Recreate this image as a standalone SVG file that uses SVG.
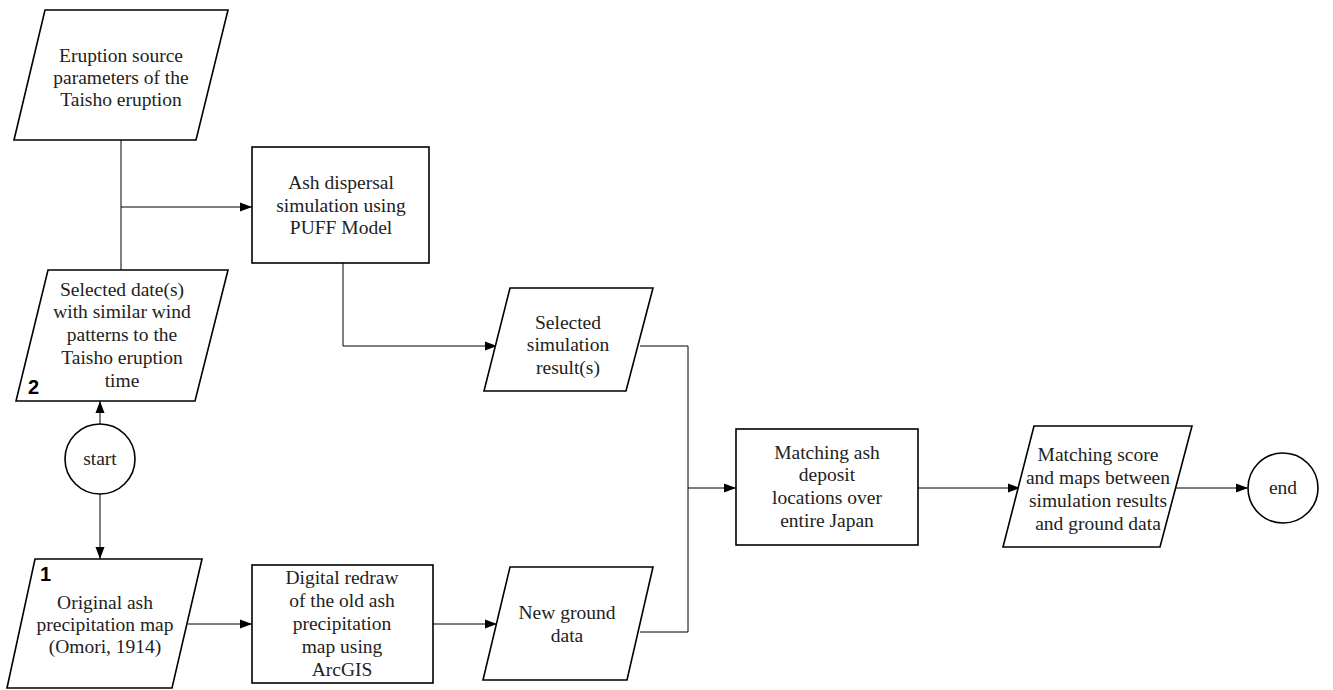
<svg xmlns="http://www.w3.org/2000/svg" width="1333" height="690" viewBox="0 0 1333 690">
<defs>
<marker id="ah" viewBox="0 0 12 10" refX="12" refY="5" markerWidth="12" markerHeight="10" markerUnits="userSpaceOnUse" orient="auto">
<path d="M0,0.5 L12,5 L0,9.5 Z" fill="#000"/>
</marker>
<style>
.s{fill:#fff;stroke:#000;stroke-width:1.6}
.c{fill:none;stroke:#000;stroke-width:1}
.t{font-family:"Liberation Serif","Times New Roman",serif;font-size:19.5px;fill:#222;text-anchor:middle}
.n{font-family:"Liberation Sans",Arial,sans-serif;font-size:20px;font-weight:bold;fill:#000}
</style>
</defs>
<rect width="1333" height="690" fill="#fff"/>
<g id="connectors">
<path class="c" d="M121,140 V270"/>
<path class="c" d="M121,207 H252" marker-end="url(#ah)"/>
<path class="c" d="M100,424 V401" marker-end="url(#ah)"/>
<path class="c" d="M100,494 V559" marker-end="url(#ah)"/>
<path class="c" d="M188,624 H252" marker-end="url(#ah)"/>
<path class="c" d="M343,263 V346 H497" marker-end="url(#ah)"/>
<path class="c" d="M433,624 H497" marker-end="url(#ah)"/>
<path class="c" d="M640,346 H688 V632 H640"/>
<path class="c" d="M688,488 H736" marker-end="url(#ah)"/>
<path class="c" d="M918,488 H1020" marker-end="url(#ah)"/>
<path class="c" d="M1176,488 H1248" marker-end="url(#ah)"/>
</g>
<g id="eruption-params">
<polygon class="s" points="45,10 228,10 196,140 14,140"/>
<text class="t" x="121" y="62">Eruption source</text>
<text class="t" x="121" y="84">parameters of the</text>
<text class="t" x="121" y="106">Taisho eruption</text>
</g>
<g id="selected-dates">
<polygon class="s" points="48,270 228,270 195,401 16,401"/>
<text class="t" x="122" y="296">Selected date(s)</text>
<text class="t" x="122" y="318">with similar wind</text>
<text class="t" x="122" y="341">patterns to the</text>
<text class="t" x="122" y="364">Taisho eruption</text>
<text class="t" x="122" y="387">time</text>
<text class="n" x="28" y="394">2</text>
</g>
<g id="start">
<circle class="s" cx="100" cy="459" r="35"/>
<text class="t" x="100" y="465">start</text>
</g>
<g id="original-map">
<polygon class="s" points="35,559 202,559 172,688 7,688"/>
<text class="t" x="105" y="609">Original ash</text>
<text class="t" x="105" y="631">precipitation map</text>
<text class="t" x="105" y="653">(Omori, 1914)</text>
<text class="n" x="40" y="581">1</text>
</g>
<g id="ash-dispersal">
<rect class="s" x="252" y="147" width="177" height="116"/>
<text class="t" x="341" y="189">Ash dispersal</text>
<text class="t" x="341" y="212">simulation using</text>
<text class="t" x="341" y="234">PUFF Model</text>
</g>
<g id="digital-redraw">
<rect class="s" x="252" y="565" width="181" height="118"/>
<text class="t" x="342" y="584">Digital redraw</text>
<text class="t" x="342" y="607">of the old ash</text>
<text class="t" x="342" y="630">precipitation</text>
<text class="t" x="342" y="653">map using</text>
<text class="t" x="342" y="676">ArcGIS</text>
</g>
<g id="selected-simulation">
<polygon class="s" points="510,288 653,288 626,391 484,391"/>
<text class="t" x="568" y="329">Selected</text>
<text class="t" x="568" y="351">simulation</text>
<text class="t" x="568" y="374">result(s)</text>
</g>
<g id="new-ground-data">
<polygon class="s" points="510,567 653,567 627,680 483,680"/>
<text class="t" x="567" y="619">New ground</text>
<text class="t" x="567" y="642">data</text>
</g>
<g id="matching">
<rect class="s" x="736" y="429" width="182" height="116"/>
<text class="t" x="827" y="459">Matching ash</text>
<text class="t" x="827" y="481">deposit</text>
<text class="t" x="827" y="504">locations over</text>
<text class="t" x="827" y="527">entire Japan</text>
</g>
<g id="matching-score">
<polygon class="s" points="1034,426 1192,426 1160,547 1003,547"/>
<text class="t" x="1098" y="461">Matching score</text>
<text class="t" x="1098" y="484">and maps between</text>
<text class="t" x="1098" y="507">simulation results</text>
<text class="t" x="1098" y="530">and ground data</text>
</g>
<g id="end">
<circle class="s" cx="1283" cy="488" r="35"/>
<text class="t" x="1283" y="494">end</text>
</g>
</svg>
